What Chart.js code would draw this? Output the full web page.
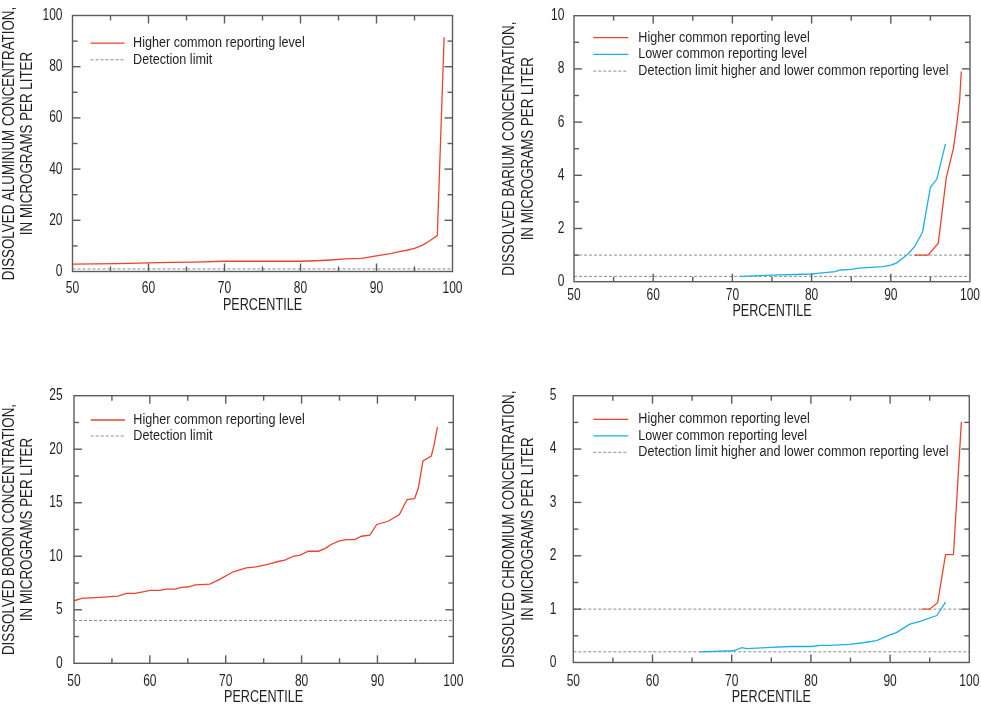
<!DOCTYPE html>
<html><head><meta charset="utf-8">
<script src="https://cdn.jsdelivr.net/npm/chart.js@4.4.0/dist/chart.umd.min.js"></script>
<style>
html,body{margin:0;padding:0;background:#fff;}
#wrap{position:relative;width:981px;height:708px;overflow:hidden;background:#fff;}
canvas{position:absolute;}
</style></head><body><div id="wrap">
<canvas id="c1" width="490" height="340" style="left:0;top:0"></canvas>
<canvas id="c2" width="491" height="340" style="left:490px;top:0"></canvas>
<canvas id="c3" width="490" height="368" style="left:0;top:340px"></canvas>
<canvas id="c4" width="491" height="368" style="left:490px;top:340px"></canvas>
</div>
<script>
// ---------- DATA ----------
const xTickLabels = [50, 60, 70, 80, 90, 100];
const detectionPct = [50, 100];

// Aluminum
const alHigherPct = [50, 53, 56, 60, 63, 66, 70, 75, 80, 82, 84, 86, 88, 89, 90, 91, 92, 93, 94, 95, 96, 97, 98, 98.9];
const alHigherVal = [2.9, 3.0, 3.1, 3.4, 3.6, 3.7, 4.0, 4.0, 4.0, 4.2, 4.5, 4.9, 5.1, 5.6, 6.1, 6.6, 7.1, 7.8, 8.3, 9.0, 10.2, 12.0, 14.0, 91.5];
const alDetection = [1, 1];
const alYTicks = [0, 20, 40, 60, 80, 100];

// Barium
const baLowerPct = [71, 72, 74, 76, 78, 80, 81, 82, 83, 83.6, 85, 86, 87.5, 89, 90, 90.7, 91.5, 92.2, 93, 94, 95, 95.8, 96.3, 96.9];
const baLowerVal = [0.2, 0.21, 0.24, 0.26, 0.27, 0.29, 0.32, 0.35, 0.38, 0.44, 0.46, 0.51, 0.54, 0.57, 0.62, 0.70, 0.88, 1.05, 1.32, 1.86, 3.55, 3.85, 4.45, 5.18];
const baHigherPct = [93, 94.7, 96, 97, 97.9, 98.3, 98.7, 98.9];
const baHigherVal = [1.0, 1.0, 1.45, 3.9, 5.0, 5.85, 6.85, 7.9];
const baDetectionHigher = [1, 1];
const baDetectionLower = [0.2, 0.2];
const baYTicks = [0, 2, 4, 6, 8, 10];

// Boron
const bHigherPct = [50, 51, 53.4, 55.8, 56.9, 58, 59.1, 60, 61.3, 62.2, 63.3, 64.2, 65.1, 66, 67.9, 69.2, 71, 72.7, 73.8, 74.9, 75.8, 76.9, 77.8, 78.9, 79.8, 80.9, 82.2, 83.1, 83.9, 85, 85.9, 87, 87.9, 89, 89.9, 91.4, 92.9, 93.9, 94.9, 95.4, 96, 97.1, 97.5, 97.9];
const bHigherVal = [5.84, 6.06, 6.15, 6.28, 6.53, 6.53, 6.68, 6.81, 6.81, 6.93, 6.93, 7.09, 7.15, 7.33, 7.4, 7.84, 8.55, 8.92, 8.98, 9.14, 9.29, 9.51, 9.64, 10.0, 10.1, 10.47, 10.47, 10.72, 11.1, 11.44, 11.56, 11.56, 11.87, 11.97, 12.97, 13.27, 13.9, 15.3, 15.39, 16.4, 18.9, 19.37, 20.5, 22.07];
const bDetection = [4, 4];
const bYTicks = [0, 5, 10, 15, 20, 25];

// Chromium
const crLowerPct = [66, 70.2, 71.3, 71.9, 74.4, 77.4, 80.1, 81.2, 82.4, 84.9, 86.6, 88.3, 89.8, 90.8, 92.5, 93.8, 95.9, 97];
const crLowerVal = [0.2, 0.22, 0.28, 0.26, 0.28, 0.30, 0.30, 0.32, 0.32, 0.34, 0.37, 0.41, 0.51, 0.56, 0.72, 0.77, 0.88, 1.13];
const crHigherPct = [94, 95, 96, 97, 98, 99];
const crHigherVal = [1.0, 1.0, 1.12, 2.02, 2.02, 4.51];
const crDetectionHigher = [1, 1];
const crDetectionLower = [0.2, 0.2];
const crYTicks = [0, 1, 2, 3, 4, 5];

// ---------- STYLE / LAYOUT ----------
const FONT = "'Liberation Sans', Arial, sans-serif";
const TEXT = '#231f20';
const RED = '#e9442e';
const BLUE = '#1db0e6';
const DASH = '#8c8c8c';
const FRAME = '#5c5c5c';
const TICK_SIZE = 16, XTITLE_SIZE = 16.3, YTITLE_SIZE = 16, LEGEND_SIZE = 14;

Chart.defaults.font.family = FONT;
Chart.defaults.color = TEXT;

function pts(xs, ys) { return xs.map((x, i) => ({x: x, y: ys[i]})); }
function near(v, step) { const r = v / step; return Math.abs(r - Math.round(r)) < 1e-6; }

function solid(label, xs, ys, color) {
  return {label, data: pts(xs, ys), borderColor: color, borderWidth: 1.3, pointRadius: 0, showLine: true, tension: 0, fill: false};
}
function dashed(label, xs, ys) {
  return {label, data: pts(xs, ys), borderColor: DASH, borderWidth: 1, borderDash: [3, 2], pointRadius: 0, showLine: true, tension: 0, fill: false};
}

// emulate the condensed typeface of the original figure by narrowing glyphs horizontally
const condensePlugin = {
  id: 'condense',
  beforeInit(chart) {
    const ctx = chart.ctx;
    const orig = ctx.fillText;
    ctx.fillText = function (text, x, y, maxWidth) {
      const m = this.getTransform();
      const rotated = Math.abs(m.b) > 1e-6;
      const mm = this.font.match(/([\d.]+)px/);
      const size = mm ? parseFloat(mm[1]) : TICK_SIZE;
      let s;
      if (rotated) s = 0.835;
      else if (Math.abs(size - XTITLE_SIZE) < 0.05) s = 0.775;
      else if (Math.abs(size - TICK_SIZE) < 0.05) s = 0.75;
      else s = 0.9;
      this.save();
      this.translate(x, y);
      this.scale(s, 1);
      if (maxWidth === undefined) orig.call(this, text, 0, 0);
      else orig.call(this, text, 0, 0, maxWidth / s);
      this.restore();
    };
  }
};

const framePlugin = {
  id: 'frameTicks',
  afterDatasetsDraw(chart, args, opts) {
    const {ctx, chartArea: a, scales: {x, y}} = chart;
    ctx.save();
    ctx.strokeStyle = FRAME;
    ctx.lineWidth = 1.4;
    ctx.setLineDash([]);
    const seg = (x1, y1, x2, y2) => { ctx.beginPath(); ctx.moveTo(x1, y1); ctx.lineTo(x2, y2); ctx.stroke(); };
    x.ticks.forEach(t => {
      const px = x.getPixelForValue(t.value);
      if (px <= a.left + 1 || px >= a.right - 1) return;
      const len = near(t.value, opts.xMajor) ? 8 : 5;
      seg(px, a.bottom, px, a.bottom - len);
      seg(px, a.top, px, a.top + len);
    });
    y.ticks.forEach(t => {
      const py = y.getPixelForValue(t.value);
      if (py <= a.top + 1 || py >= a.bottom - 1) return;
      const len = near(t.value, opts.yMajor) ? 8 : 5;
      seg(a.left, py, a.left + len, py);
      seg(a.right, py, a.right - len, py);
    });
    ctx.strokeRect(a.left, a.top, a.right - a.left, a.bottom - a.top);
    // legend
    const L = opts.legend;
    const seen = new Set();
    let row = 0;
    ctx.font = LEGEND_SIZE + 'px ' + FONT;
    ctx.textBaseline = 'middle';
    ctx.textAlign = 'left';
    chart.data.datasets.forEach(ds => {
      if (seen.has(ds.label)) return;
      seen.add(ds.label);
      const yy = a.top + L.ty + row * L.dy;
      ctx.strokeStyle = ds.borderColor;
      ctx.lineWidth = ds.borderWidth;
      ctx.setLineDash(ds.borderDash || []);
      seg(a.left + L.sx, yy, a.left + L.sx + L.sw, yy);
      ctx.setLineDash([]);
      ctx.fillStyle = TEXT;
      ctx.fillText(ds.label, a.left + L.tx, yy);
      row++;
    });
    ctx.restore();
  }
};

function makePanel(id, datasets, yTicks, yMinorStep, yTitle, lay) {
  const yMin = yTicks[0], yMax = yTicks[yTicks.length - 1];
  const yMajor = yTicks[1] - yTicks[0];
  const xMajor = xTickLabels[1] - xTickLabels[0];
  new Chart(document.getElementById(id), {
    type: 'scatter',
    data: {datasets},
    plugins: [condensePlugin, framePlugin],
    options: {
      responsive: false,
      animation: false,
      devicePixelRatio: 1,
      layout: {padding: lay.pad},
      plugins: {
        legend: {display: false},
        tooltip: {enabled: false},
        frameTicks: {xMajor, yMajor, legend: lay.legend}
      },
      scales: {
        x: {
          type: 'linear', min: xTickLabels[0], max: xTickLabels[xTickLabels.length - 1],
          grid: {display: false, drawTicks: false},
          border: {display: false},
          ticks: {stepSize: xMajor / 2, autoSkip: false, maxRotation: 0, padding: lay.xTickPad,
                  font: {size: TICK_SIZE, lineHeight: 1.2}, color: TEXT,
                  callback: v => xTickLabels.some(t => Math.abs(t - v) < 1e-6) ? String(v) : ''},
          title: {display: true, text: 'PERCENTILE', font: {size: XTITLE_SIZE, lineHeight: 1.2}, color: TEXT, padding: {top: 0, bottom: 0}},
          afterFit: s => { s.height = lay.xHeight; s.paddingLeft = 0; s.paddingRight = 0; }
        },
        y: {
          type: 'linear', min: yMin, max: yMax,
          grid: {display: false, drawTicks: false},
          border: {display: false},
          ticks: {stepSize: yMinorStep, autoSkip: false, padding: lay.yTickPad,
                  font: {size: TICK_SIZE}, color: TEXT,
                  callback: v => yTicks.some(t => Math.abs(t - v) < 1e-6) ? String(v) : ''},
          title: {display: true, text: yTitle, font: {size: YTITLE_SIZE, lineHeight: 1.16}, color: TEXT, padding: {top: 0, bottom: 0}},
          afterFit: s => { s.width = lay.yWidth; s.paddingTop = 0; s.paddingBottom = 0; }
        }
      }
    }
  });
}

makePanel('c1', [
  solid('Higher common reporting level', alHigherPct, alHigherVal, RED),
  dashed('Detection limit', detectionPct, alDetection)
], alYTicks, 10, ['DISSOLVED ALUMINUM CONCENTRATION,', 'IN MICROGRAMS PER LITER'], {
  pad: {left: 0, top: 15.5, right: 37.5, bottom: 24.4}, yWidth: 72.5, xHeight: 44.1, xTickPad: 7.9, yTickPad: 10,
  legend: {sx: 18, sw: 34, tx: 60.6, ty: 27.6, dy: 16.7}
});

makePanel('c2', [
  solid('Higher common reporting level', baHigherPct, baHigherVal, RED),
  solid('Lower common reporting level', baLowerPct, baLowerVal, BLUE),
  dashed('Detection limit higher and lower common reporting level', detectionPct, baDetectionHigher),
  dashed('Detection limit higher and lower common reporting level', detectionPct, baDetectionLower)
], baYTicks, 1, ['DISSOLVED BARIUM CONCENTRATION,', 'IN MICROGRAMS PER LITER'], {
  pad: {left: 10.5, top: 15.7, right: 11, bottom: 18.9}, yWidth: 73.5, xHeight: 39.4, xTickPad: 4.0, yTickPad: 9.7,
  legend: {sx: 19.3, sw: 35, tx: 64.3, ty: 22, dy: 16.7}
});

makePanel('c3', [
  solid('Higher common reporting level', bHigherPct, bHigherVal, RED),
  dashed('Detection limit', detectionPct, bDetection)
], bYTicks, 2.5, ['DISSOLVED BORON CONCENTRATION,', 'IN MICROGRAMS PER LITER'], {
  pad: {left: 0, top: 55.7, right: 36.7, bottom: 0.7}, yWidth: 74, xHeight: 44.0, xTickPad: 8.8, yTickPad: 11.3,
  legend: {sx: 16.7, sw: 34.3, tx: 59.3, ty: 24.3, dy: 16}
});

makePanel('c4', [
  solid('Higher common reporting level', crHigherPct, crHigherVal, RED),
  solid('Lower common reporting level', crLowerPct, crLowerVal, BLUE),
  dashed('Detection limit higher and lower common reporting level', detectionPct, crDetectionHigher),
  dashed('Detection limit higher and lower common reporting level', detectionPct, crDetectionLower)
], crYTicks, 0.5, ['DISSOLVED CHROMIUM CONCENTRATION,', 'IN MICROGRAMS PER LITER'], {
  pad: {left: 10.7, top: 55.7, right: 11.7, bottom: 1.0}, yWidth: 72.6, xHeight: 44.5, xTickPad: 9.6, yTickPad: 17,
  legend: {sx: 20, sw: 35, tx: 65, ty: 23.6, dy: 16.5}
});
</script>
</body></html>
